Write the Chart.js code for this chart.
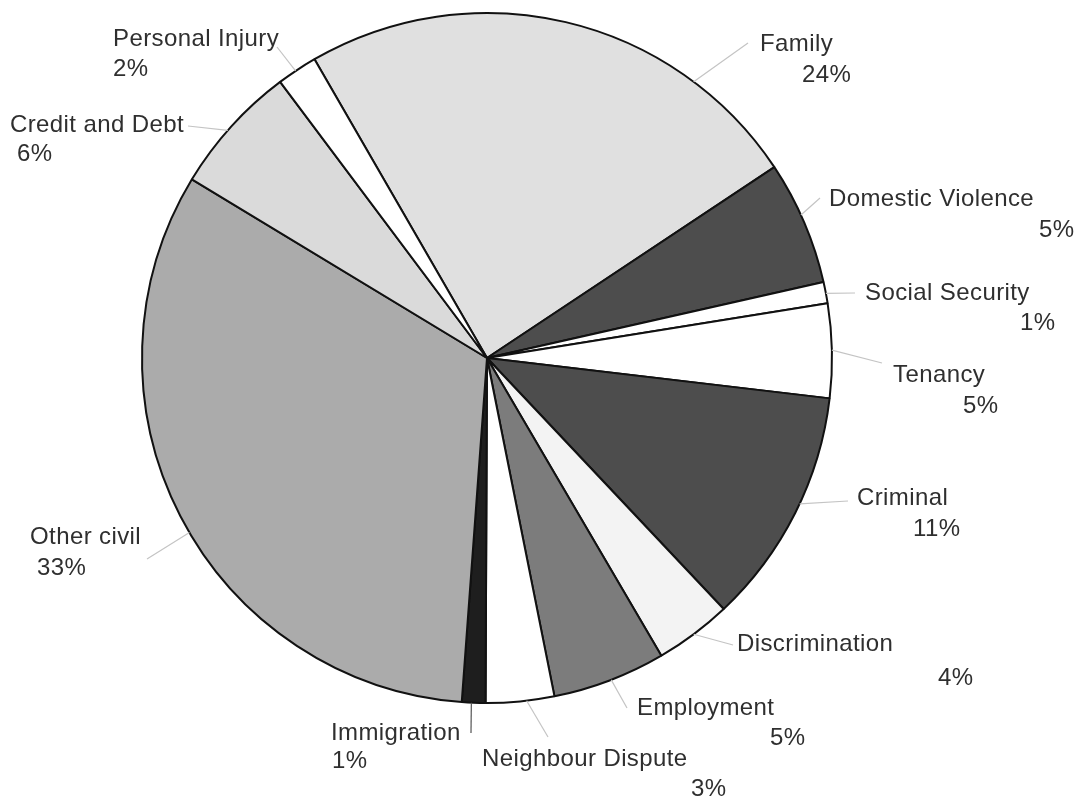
<!DOCTYPE html>
<html>
<head>
<meta charset="utf-8">
<script src="https://cdn.jsdelivr.net/npm/chart.js@4"></script>
<style>
  html, body { margin: 0; padding: 0; background: #fff; }
  #wrap { width: 1083px; height: 798px; }
</style>
</head>
<body>
<div id="wrap"><canvas id="legalChart" width="1083" height="798"></canvas></div>
<script>
// categories clockwise, starting at Family
const categories = ['Family', 'Domestic Violence', 'Social Security', 'Tenancy', 'Criminal',
    'Discrimination', 'Employment', 'Neighbour Dispute', 'Immigration', 'Other civil',
    'Credit and Debt', 'Personal Injury'];
const shares = [24.0, 5.8, 1.0, 4.4, 11.1, 3.6, 5.3, 3.2, 1.1, 32.5, 6.1, 1.9];
const pctLabels = ['24%', '5%', '1%', '5%', '11%', '4%', '5%', '3%', '1%', '33%', '6%', '2%'];

const fills = ['#e0e0e0', '#4d4d4d', '#ffffff', '#ffffff', '#4d4d4d', '#f3f3f3',
    '#7c7c7c', '#ffffff', '#1e1e1e', '#ababab', '#dadada', '#ffffff'];

// label layout: leader start angle (deg from top), leader end, name pos, pct pos
const labelLayout = [
    { a: 36.8, end: [748, 43], name: [760, 51], pct: [802, 82] },
    { a: 65.5, end: [820, 198], name: [829, 206], pct: [1039, 237] },
    { a: 79.2, end: [855, 293], name: [865, 300], pct: [1020, 330] },
    { a: 88.7, end: [882, 363], name: [893, 382], pct: [963, 413] },
    { a: 115, end: [848, 501], name: [857, 505], pct: [913, 536] },
    { a: 143.2, end: [733, 645], name: [737, 651], pct: [938, 685] },
    { a: 158.9, end: [627, 708], name: [637, 715], pct: [770, 745] },
    { a: 173.4, end: [548, 737], name: [482, 766], pct: [691, 796] },
    { a: 182.6, end: [471, 733], name: [331, 740], pct: [332, 768], dark: true },
    { a: 239.6, end: [147, 559], name: [30, 544], pct: [37, 575] },
    { a: 311.3, end: [188, 126], name: [10, 132], pct: [17, 161] },
    { a: 326.3, end: [277, 47], name: [113, 46], pct: [113, 76] }
];

const labelPlugin = {
    id: 'sliceLabels',
    afterDraw(chart) {
        const ctx = chart.ctx;
        const arc = chart.getDatasetMeta(0).data[0];
        const cx = arc.x, cy = arc.y, r = arc.outerRadius;
        ctx.save();
        labelLayout.forEach((l, i) => {
            const rad = l.a * Math.PI / 180;
            ctx.beginPath();
            ctx.moveTo(cx + r * Math.sin(rad), cy - r * Math.cos(rad));
            ctx.lineTo(l.end[0], l.end[1]);
            ctx.strokeStyle = l.dark ? '#555' : '#c4c4c4';
            ctx.lineWidth = 1.2;
            ctx.stroke();
            ctx.fillStyle = '#2f2f2f';
            ctx.font = '24px "Liberation Sans", Arial, sans-serif';
            ctx.letterSpacing = '0.4px';
            ctx.textBaseline = 'alphabetic';
            ctx.textAlign = 'left';
            ctx.fillText(categories[i], l.name[0], l.name[1]);
            ctx.fillText(pctLabels[i], l.pct[0], l.pct[1]);
        });
        ctx.restore();
    }
};

new Chart(document.getElementById('legalChart'), {
    type: 'pie',
    data: {
        labels: categories,
        datasets: [{
            data: shares,
            backgroundColor: fills,
            borderColor: '#111',
            borderWidth: 2
        }]
    },
    options: {
        responsive: false,
        animation: false,
        rotation: -30,
        layout: { padding: { left: 141, right: 250, top: 12, bottom: 94 } },
        plugins: {
            legend: { display: false },
            tooltip: { enabled: false }
        }
    },
    plugins: [labelPlugin]
});
</script>
</body>
</html>
